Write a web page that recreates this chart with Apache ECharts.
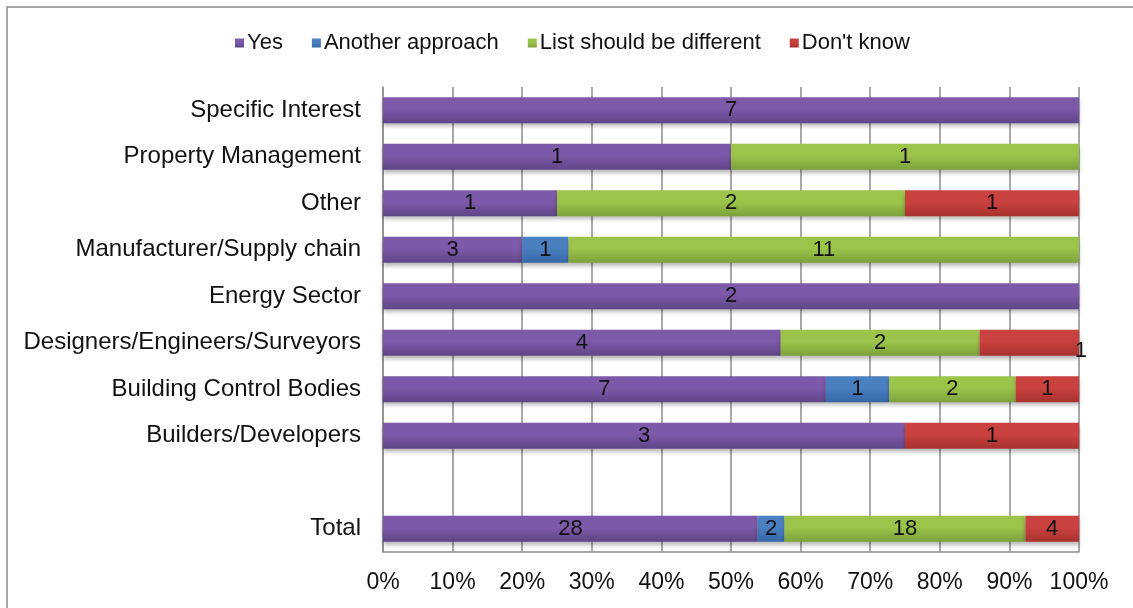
<!DOCTYPE html>
<html>
<head>
<meta charset="utf-8">
<script src="https://cdn.jsdelivr.net/npm/echarts@6/dist/echarts.min.js"></script>
<style>
  html, body { margin: 0; padding: 0; background: #fff; }
  #chart { width: 1133px; height: 608px; }
</style>
</head>
<body>
<div id="chart"></div>
<script>
// Responses per respondent group (counts)
const categories = [
  'Specific Interest',
  'Property Management',
  'Other',
  'Manufacturer/Supply chain',
  'Energy Sector',
  'Designers/Engineers/Surveyors',
  'Building Control Bodies',
  'Builders/Developers',
  '',
  'Total'
];
const yesCounts      = [7, 1, 1, 3, 2, 4, 7, 3, null, 28];
const anotherCounts  = [0, 0, 0, 1, 0, 0, 1, 0, null, 2];
const listCounts     = [0, 1, 2, 11, 0, 2, 2, 0, null, 18];
const dontKnowCounts = [0, 0, 1, 0, 0, 1, 1, 1, null, 4];
const xTickLabels = ['0%', '10%', '20%', '30%', '40%', '50%', '60%', '70%', '80%', '90%', '100%'];

const FONT = '"Liberation Sans", Arial, sans-serif';

const rowTotals = categories.map((_, i) =>
  [yesCounts, anotherCounts, listCounts, dontKnowCounts]
    .reduce((s, arr) => s + (arr[i] || 0), 0)
);

function gradient(top, bottom) {
  return new echarts.graphic.LinearGradient(0, 0, 0, 1, [
    { offset: 0, color: top },
    { offset: 0.45, color: top },
    { offset: 1, color: bottom }
  ]);
}

function makeSeries(name, counts, top, bottom) {
  const data = counts.map((c, i) => {
    if (!c) return { value: null, count: 0 };
    const item = { value: c / rowTotals[i] * 100, count: c };
    // the lone "Don't know" answer among designers sits on the bar's end
    if (name === "Don't know" && categories[i] === 'Designers/Engineers/Surveyors') {
      item.label = { position: 'insideRight', offset: [13, 8] };
    }
    return item;
  });
  return {
    name: name,
    type: 'bar',
    stack: 'share',
    barWidth: 26,
    data: data,
    itemStyle: {
      color: gradient(top, bottom),
      shadowColor: 'rgba(0,0,0,0.28)',
      shadowBlur: 4,
      shadowOffsetY: 3
    },
    label: {
      show: true,
      position: 'inside',
      color: '#111',
      fontFamily: FONT,
      fontSize: 22,
      formatter: p => p.data.count ? String(p.data.count) : ''
    },
    emphasis: { disabled: true }
  };
}

const chart = echarts.init(document.getElementById('chart'), null, { renderer: 'canvas' });

chart.setOption({
  animation: false,
  backgroundColor: '#fff',
  graphic: [{
    type: 'rect',
    shape: { x: 7, y: 7, width: 1200, height: 700 },
    style: { fill: 'none', stroke: '#8c8c8c', lineWidth: 1.5 },
    silent: true
  }],
  color: ['#7b58a6', '#4a7ebf', '#98c046', '#c7403d'],
  legend: {
    left: 230,
    top: 27,
    icon: 'rect',
    itemWidth: 9,
    itemHeight: 9,
    itemGap: 29,
    textStyle: { fontFamily: FONT, fontSize: 22, color: '#111', padding: [0, 0, 0, -2] },
    data: ['Yes', 'Another approach', 'List should be different', "Don't know"]
  },
  grid: { left: 383, right: 54, top: 87, bottom: 56, containLabel: false },
  xAxis: {
    type: 'value',
    min: 0,
    max: 100,
    interval: 10,
    axisLine: { show: true, lineStyle: { color: '#8c8c8c', width: 1.5 } },
    axisTick: { show: false },
    splitLine: { show: true, lineStyle: { color: '#8c8c8c', width: 1.5 } },
    axisLabel: {
      margin: 19,
      fontFamily: FONT,
      fontSize: 23,
      color: '#111',
      formatter: v => xTickLabels[Math.round(v / 10)]
    }
  },
  yAxis: {
    type: 'category',
    inverse: true,
    data: categories,
    axisLine: { show: true, lineStyle: { color: '#8c8c8c', width: 1.5 } },
    axisTick: { show: false },
    splitLine: { show: false },
    axisLabel: { margin: 22, fontFamily: FONT, fontSize: 24, color: '#111' }
  },
  series: [
    makeSeries('Yes', yesCounts, '#7d5aa9', '#5f4487'),
    makeSeries('Another approach', anotherCounts, '#4a7fc0', '#3567a6'),
    makeSeries('List should be different', listCounts, '#9cc44b', '#7da13a'),
    makeSeries("Don't know", dontKnowCounts, '#c9423f', '#a8312e')
  ]
});
</script>
</body>
</html>
